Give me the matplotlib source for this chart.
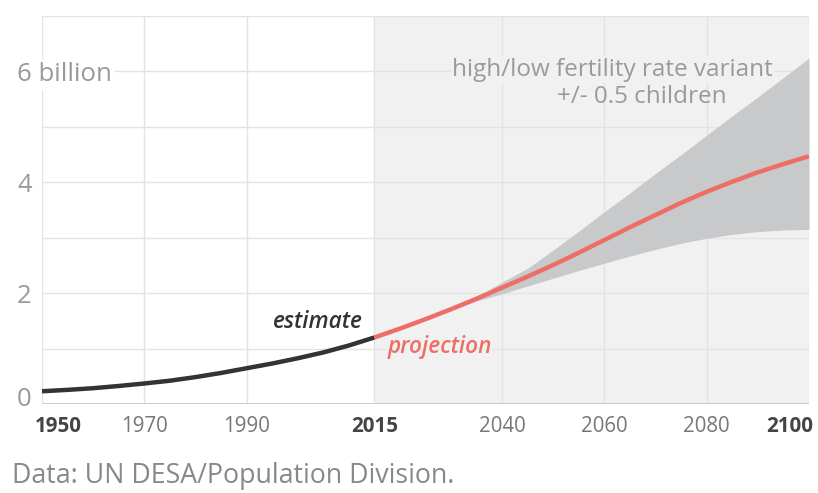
import matplotlib
matplotlib.use("Agg")
import matplotlib.pyplot as plt
import matplotlib.transforms as mtransforms

plt.rcParams['font.family'] = ['Open Sans', 'DejaVu Sans']

# Data (billion people)
est_years = [1950, 1955, 1960, 1965, 1970, 1975, 1980, 1985, 1990, 1995,
             2000, 2005, 2010, 2015]
est_values = [0.23, 0.255, 0.285, 0.325, 0.37, 0.42, 0.485, 0.56, 0.645,
              0.73, 0.825, 0.93, 1.055, 1.20]

proj_years = [2015, 2020, 2025, 2030, 2035, 2040, 2045, 2050, 2055, 2060,
              2065, 2070, 2075, 2080, 2085, 2090, 2095, 2100]
proj_values = [1.20, 1.36, 1.53, 1.71, 1.90, 2.10, 2.30, 2.51, 2.73, 2.96,
               3.19, 3.41, 3.63, 3.83, 4.01, 4.18, 4.33, 4.47]
low_values = [1.20, 1.355, 1.52, 1.69, 1.86, 1.99, 2.13, 2.27, 2.41, 2.54,
              2.67, 2.79, 2.90, 2.99, 3.06, 3.11, 3.14, 3.15]
high_values = [1.20, 1.365, 1.54, 1.73, 1.94, 2.20, 2.45, 2.78, 3.12, 3.47,
               3.81, 4.16, 4.50, 4.85, 5.20, 5.54, 5.89, 6.24]

x_ticks = [1950, 1970, 1990, 2015, 2040, 2060, 2080, 2100]
x_bold = [1950, 2015, 2100]
y_ticks = [0, 2, 4, 6]
y_labels = ['0', '2', '4', '6 billion']

fig = plt.figure(figsize=(8.18, 4.93), dpi=100)
ax = fig.add_axes([42/818, 1-404/493, (809-42)/818, (404-16)/493])
ax.set_xlim(1950, 2100)
ax.set_ylim(0, 7)

grid_c = '#e3e3e5'
shade_c = '#f1f1f2'
ax.axvspan(2015, 2100, color=shade_c, zorder=0, lw=0)
for yy in range(1, 8):
    ax.axhline(yy, color=grid_c, lw=1, zorder=1)
for xx in x_ticks:
    ax.axvline(xx, color=grid_c, lw=1, zorder=1)
ax.axhline(0, color='#c4c4c6', lw=1.2, zorder=1)

ax.fill_between(proj_years, low_values, high_values, color='#c8c9cb', lw=0, zorder=2)
ax.plot(est_years, est_values, color='#333333', lw=3.2, solid_capstyle='butt',
        solid_joinstyle='round', zorder=4)
ax.plot(proj_years, proj_values, color='#ee6e66', lw=3.2, solid_capstyle='butt',
        solid_joinstyle='round', zorder=4)

for s in ax.spines.values():
    s.set_visible(False)

ax.set_xticks(x_ticks)
ax.set_xticklabels([str(v) for v in x_ticks])
ax.tick_params(axis='x', length=0, pad=9, labelsize=14.8)
for lab, v in zip(ax.get_xticklabels(), x_ticks):
    if v in x_bold:
        lab.set_fontweight('bold')
        lab.set_color('#444444')
    else:
        lab.set_color('#777777')
    if v == 1950:
        lab.set_ha('left')
        lab.set_transform(lab.get_transform() +
                          mtransforms.ScaledTranslation(-7/100, 0, fig.dpi_scale_trans))
    if v == 2100:
        lab.set_ha('right')
        lab.set_transform(lab.get_transform() +
                          mtransforms.ScaledTranslation(4/100, 0, fig.dpi_scale_trans))

ax.set_yticks(y_ticks)
ax.set_yticklabels(y_labels)
ax.tick_params(axis='y', length=0, pad=18, labelsize=18.5, labelcolor='#999999')
for lab, v in zip(ax.get_yticklabels(), y_ticks):
    lab.set_ha('left')
    if v == 0:
        lab.set_transform(lab.get_transform() +
                          mtransforms.ScaledTranslation(0, 7/100, fig.dpi_scale_trans))
    if v == 6:
        lab.set_bbox(dict(facecolor='white', edgecolor='none', pad=2))
        lab.set_zorder(5)

ax.text(2093, 6.03, 'high/low fertility rate variant', ha='right', va='center',
        fontsize=17.5, color='#9a9a9c', zorder=5,
        bbox=dict(facecolor=shade_c, edgecolor='none', pad=1))
ax.text(2067.3, 5.54, '+/- 0.5 children', ha='center', va='center',
        fontsize=17.5, color='#9a9a9c', zorder=5)

ax.text(2012.8, 1.48, 'estimate', ha='right', va='center', fontsize=16.3,
        style='italic', fontweight='semibold', color='#333333', zorder=5)
ax.text(2017.5, 1.03, 'projection', ha='left', va='center', fontsize=16.3,
        style='italic', fontweight='semibold', color='#ee6e66', zorder=3,
        bbox=dict(facecolor=shade_c, edgecolor='none', pad=0.5))

fig.text(12/818, 1-476/493, 'Data: UN DESA/Population Division.', ha='left', va='center',
         fontsize=19.3, color='#888888')

fig.savefig('out.png', dpi=100, facecolor='white')
